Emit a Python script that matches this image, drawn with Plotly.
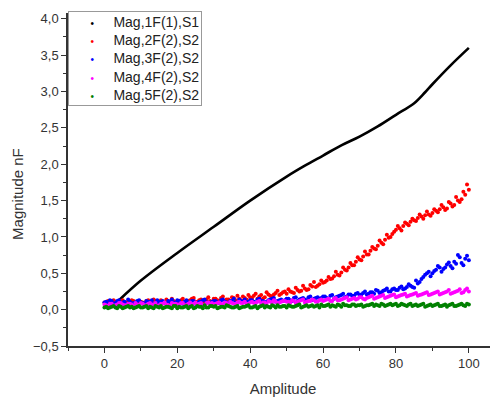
import plotly.graph_objects as go

amplitude = list(range(0, 101))
amplitude_half = [i + 0.5 for i in range(0, 100)]

black_x = [4, 10, 20, 30, 40, 50, 55, 60, 65, 70, 75, 80, 85, 88, 90, 95, 100]
black_y = [0.13, 0.40, 0.78, 1.14, 1.50, 1.83, 1.98, 2.12, 2.26, 2.38, 2.52, 2.68, 2.84, 2.99, 3.10, 3.36, 3.60]

red_y = [0.10, 0.12, 0.08, 0.11, 0.09, 0.13, 0.10, 0.08, 0.12, 0.10, 0.11,
         0.09, 0.13, 0.10, 0.12, 0.08, 0.11, 0.14, 0.10, 0.12, 0.11,
         0.13, 0.10, 0.12, 0.15, 0.11, 0.13, 0.10, 0.14, 0.12, 0.15,
         0.13, 0.16, 0.12, 0.14, 0.17, 0.13, 0.15, 0.18, 0.14, 0.17,
         0.19, 0.15, 0.20, 0.17, 0.21, 0.18, 0.23, 0.20, 0.24, 0.22,
         0.25, 0.23, 0.27, 0.26, 0.29, 0.28, 0.32, 0.31, 0.35, 0.37,
         0.40, 0.42, 0.46, 0.48, 0.51, 0.55, 0.58, 0.61, 0.66, 0.69,
         0.73, 0.76, 0.81, 0.84, 0.88, 0.92, 0.96, 0.99, 1.04, 1.10,
         1.12, 1.15, 1.18, 1.21, 1.23, 1.26, 1.28, 1.30, 1.31, 1.33,
         1.36, 1.38, 1.41, 1.39, 1.46, 1.44, 1.50, 1.52, 1.58, 1.65]
red_y_half = [0.08, 0.11, 0.13, 0.09, 0.12, 0.08, 0.11, 0.13, 0.09, 0.12,
              0.10, 0.12, 0.08, 0.14, 0.10, 0.13, 0.09, 0.12, 0.15, 0.10,
              0.12, 0.15, 0.09, 0.13, 0.16, 0.11, 0.14, 0.12, 0.17, 0.11,
              0.15, 0.12, 0.18, 0.14, 0.11, 0.16, 0.19, 0.13, 0.16, 0.20,
              0.16, 0.22, 0.18, 0.15, 0.24, 0.19, 0.21, 0.26, 0.22, 0.25,
              0.28, 0.24, 0.30, 0.25, 0.33, 0.27, 0.34, 0.38, 0.33, 0.40,
              0.38, 0.45, 0.43, 0.52, 0.47, 0.58, 0.54, 0.64, 0.61, 0.72,
              0.68, 0.80, 0.76, 0.86, 0.83, 0.95, 0.90, 1.03, 1.00, 1.07,
              1.15, 1.09, 1.20, 1.16, 1.25, 1.22, 1.31, 1.25, 1.35, 1.29,
              1.38, 1.34, 1.44, 1.37, 1.48, 1.42, 1.55, 1.48, 1.62, 1.72]

blue_y = [0.10, 0.08, 0.12, 0.09, 0.13, 0.10, 0.08, 0.11, 0.09, 0.12, 0.10,
          0.08, 0.11, 0.13, 0.09, 0.10, 0.12, 0.08, 0.11, 0.10, 0.13,
          0.09, 0.11, 0.10, 0.12, 0.08, 0.11, 0.13, 0.10, 0.09, 0.12,
          0.10, 0.13, 0.11, 0.09, 0.12, 0.10, 0.14, 0.11, 0.10, 0.13,
          0.11, 0.14, 0.12, 0.10, 0.13, 0.15, 0.11, 0.13, 0.12, 0.15,
          0.13, 0.16, 0.12, 0.15, 0.14, 0.17, 0.13, 0.16, 0.15, 0.18,
          0.16, 0.19, 0.15, 0.18, 0.20, 0.17, 0.21, 0.19, 0.22, 0.20,
          0.23, 0.21, 0.24, 0.22, 0.26, 0.24, 0.27, 0.25, 0.28, 0.27,
          0.30, 0.28, 0.31, 0.33, 0.30, 0.36, 0.42, 0.48, 0.52, 0.50,
          0.55, 0.58, 0.56, 0.62, 0.60, 0.66, 0.75, 0.64, 0.70, 0.68]
blue_y_half = [0.11, 0.13, 0.08, 0.12, 0.09, 0.11, 0.14, 0.08, 0.10, 0.13,
               0.09, 0.12, 0.10, 0.08, 0.13, 0.11, 0.09, 0.12, 0.14, 0.09,
               0.12, 0.08, 0.13, 0.10, 0.12, 0.09, 0.11, 0.14, 0.10, 0.11,
               0.12, 0.09, 0.14, 0.10, 0.12, 0.15, 0.09, 0.12, 0.14, 0.11,
               0.13, 0.10, 0.15, 0.12, 0.11, 0.14, 0.16, 0.12, 0.14, 0.13,
               0.15, 0.12, 0.17, 0.14, 0.16, 0.13, 0.18, 0.15, 0.17, 0.16,
               0.18, 0.15, 0.20, 0.17, 0.19, 0.22, 0.18, 0.21, 0.19, 0.23,
               0.21, 0.25, 0.22, 0.24, 0.27, 0.23, 0.26, 0.29, 0.25, 0.29,
               0.27, 0.32, 0.29, 0.35, 0.31, 0.40, 0.38, 0.45, 0.50, 0.46,
               0.53, 0.60, 0.52, 0.58, 0.65, 0.57, 0.63, 0.72, 0.61, 0.74]

magenta_y = [0.07, 0.05, 0.08, 0.06, 0.09, 0.07, 0.06, 0.08, 0.05, 0.07, 0.09,
             0.06, 0.08, 0.07, 0.09, 0.06, 0.08, 0.07, 0.05, 0.08, 0.07,
             0.09, 0.06, 0.08, 0.07, 0.10, 0.08, 0.06, 0.09, 0.08, 0.07,
             0.09, 0.08, 0.10, 0.07, 0.09, 0.08, 0.11, 0.09, 0.08, 0.10,
             0.09, 0.11, 0.08, 0.10, 0.12, 0.09, 0.11, 0.10, 0.12, 0.11,
             0.10, 0.12, 0.11, 0.13, 0.10, 0.12, 0.14, 0.11, 0.13, 0.12,
             0.14, 0.12, 0.15, 0.13, 0.14, 0.16, 0.13, 0.15, 0.14, 0.17,
             0.15, 0.16, 0.18, 0.15, 0.17, 0.19, 0.16, 0.18, 0.20, 0.17,
             0.19, 0.21, 0.18, 0.20, 0.22, 0.19, 0.21, 0.23, 0.20, 0.22,
             0.24, 0.21, 0.23, 0.25, 0.22, 0.24, 0.26, 0.23, 0.27, 0.25]
magenta_y_half = [0.06, 0.08, 0.05, 0.07, 0.09, 0.06, 0.08, 0.07, 0.09, 0.06,
                  0.08, 0.06, 0.09, 0.07, 0.05, 0.08, 0.10, 0.06, 0.09, 0.08,
                  0.07, 0.09, 0.06, 0.10, 0.08, 0.07, 0.09, 0.06, 0.10, 0.09,
                  0.08, 0.10, 0.07, 0.09, 0.11, 0.08, 0.10, 0.09, 0.11, 0.08,
                  0.11, 0.09, 0.12, 0.10, 0.08, 0.11, 0.13, 0.09, 0.11, 0.12,
                  0.11, 0.13, 0.09, 0.12, 0.14, 0.11, 0.12, 0.13, 0.11, 0.14,
                  0.13, 0.15, 0.12, 0.16, 0.13, 0.15, 0.17, 0.14, 0.16, 0.15,
                  0.17, 0.14, 0.17, 0.19, 0.16, 0.18, 0.20, 0.17, 0.19, 0.21,
                  0.18, 0.20, 0.22, 0.19, 0.21, 0.23, 0.20, 0.22, 0.24, 0.21,
                  0.23, 0.25, 0.22, 0.24, 0.27, 0.23, 0.25, 0.28, 0.24, 0.29]

green_y = [0.03, 0.02, 0.04, 0.03, 0.05, 0.02, 0.04, 0.03, 0.02, 0.04, 0.03,
           0.04, 0.02, 0.03, 0.05, 0.03, 0.02, 0.04, 0.03, 0.05, 0.02,
           0.03, 0.04, 0.02, 0.05, 0.03, 0.04, 0.02, 0.03, 0.05, 0.04,
           0.02, 0.04, 0.03, 0.05, 0.03, 0.04, 0.02, 0.04, 0.05, 0.03,
           0.04, 0.02, 0.05, 0.03, 0.04, 0.06, 0.03, 0.04, 0.05, 0.03,
           0.05, 0.04, 0.06, 0.03, 0.05, 0.04, 0.06, 0.05, 0.03, 0.05,
           0.06, 0.04, 0.05, 0.07, 0.04, 0.06, 0.05, 0.07, 0.05, 0.06,
           0.04, 0.06, 0.07, 0.05, 0.06, 0.08, 0.05, 0.07, 0.06, 0.08,
           0.06, 0.07, 0.05, 0.08, 0.06, 0.05, 0.07, 0.04, 0.06, 0.05,
           0.07, 0.05, 0.06, 0.04, 0.07, 0.05, 0.06, 0.08, 0.05, 0.07]
green_y_half = [0.04, 0.03, 0.05, 0.02, 0.04, 0.03, 0.05, 0.04, 0.03, 0.05,
                0.03, 0.05, 0.04, 0.02, 0.04, 0.05, 0.03, 0.04, 0.02, 0.05,
                0.04, 0.03, 0.05, 0.04, 0.02, 0.05, 0.04, 0.06, 0.03, 0.05,
                0.05, 0.03, 0.04, 0.06, 0.04, 0.03, 0.05, 0.03, 0.04, 0.06,
                0.03, 0.05, 0.04, 0.06, 0.05, 0.03, 0.05, 0.06, 0.04, 0.05,
                0.06, 0.04, 0.05, 0.07, 0.04, 0.06, 0.05, 0.04, 0.06, 0.07,
                0.05, 0.07, 0.06, 0.04, 0.06, 0.08, 0.06, 0.05, 0.07, 0.06,
                0.07, 0.05, 0.06, 0.08, 0.07, 0.05, 0.07, 0.06, 0.08, 0.07,
                0.05, 0.08, 0.06, 0.07, 0.05, 0.07, 0.06, 0.08, 0.05, 0.07,
                0.06, 0.08, 0.05, 0.07, 0.06, 0.08, 0.05, 0.07, 0.06, 0.08]

names = ["Mag,1F(1),S1", "Mag,2F(2),S2", "Mag,3F(2),S2", "Mag,4F(2),S2", "Mag,5F(2),S2"]
colors = ["#000000", "#ff0000", "#0000ff", "#ff00ff", "#008000"]

fig = go.Figure()
fig.add_trace(go.Scatter(x=black_x, y=black_y, name=names[0], mode="lines",
                         line=dict(color=colors[0], width=2.6, shape="spline"),
                         showlegend=False))
series = [(red_y, red_y_half), (blue_y, blue_y_half),
          (magenta_y, magenta_y_half), (green_y, green_y_half)]
for nm, col, (ys, ys_half) in zip(names[1:], colors[1:], series):
    fig.add_trace(go.Scatter(x=amplitude + amplitude_half, y=ys + ys_half, name=nm,
                             mode="markers", marker=dict(color=col, size=4),
                             showlegend=False))

# legend box drawn as one annotation (tighter line spacing than plotly's legend)
legend_lines = [
    "&nbsp;&nbsp;&nbsp;&nbsp;&nbsp;<span style='color:%s;font-size:10px'>•</span>"
    "&nbsp;&nbsp;&nbsp;&nbsp;&nbsp;%s" % (c, n)
    for n, c in zip(names, colors)
]
fig.add_annotation(
    xref="paper", yref="paper", x=0, y=1, xanchor="left", yanchor="top",
    yshift=2, align="left", showarrow=False,
    text="<br>".join(legend_lines),
    font=dict(size=14, color="#222"),
    bordercolor="#999", borderwidth=1, borderpad=2, bgcolor="white",
)

axis_common = dict(showline=True, linecolor="#333", linewidth=1.5, ticks="outside",
                   ticklen=5, tickcolor="#333", showgrid=False, zeroline=False,
                   tickfont=dict(size=13, color="#333"))

# body has an 8px default margin in the written page: size the figure to fit 498x397
fig.update_layout(
    width=490, height=389,
    margin=dict(l=60, r=0, t=5, b=51),
    paper_bgcolor="white", plot_bgcolor="white",
    font=dict(family="Liberation Sans, Arial, sans-serif", color="#333"),
    separators=",.",
    showlegend=False,
    xaxis=dict(range=[-10, 108], tickvals=[0, 20, 40, 60, 80, 100],
               minor=dict(dtick=10, tick0=0, ticks="outside", ticklen=3, tickcolor="#333"),
               title=dict(text="Amplitude", font=dict(size=15, color="#333"), standoff=13),
               **axis_common),
    yaxis=dict(range=[-0.5, 4.08], tickvals=[-0.5, 0, 0.5, 1, 1.5, 2, 2.5, 3, 3.5, 4],
               tickformat=".1f",
               minor=dict(dtick=0.25, tick0=0, ticks="outside", ticklen=3, tickcolor="#333"),
               title=dict(text="Magnitude nF" + "&nbsp;" * 7,
                          font=dict(size=15, color="#333"), standoff=6),
               **axis_common),
)

fig.write_html("out.html")
